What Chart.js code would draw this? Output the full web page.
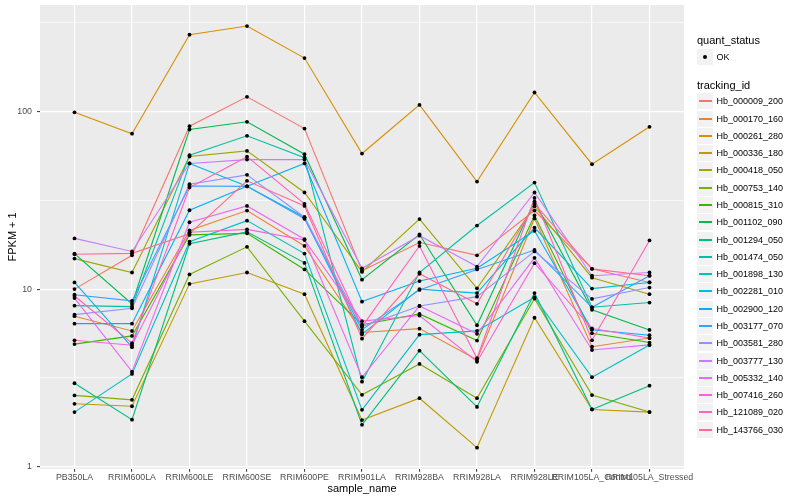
<!DOCTYPE html>
<html><head><meta charset="utf-8">
<script src="https://cdn.jsdelivr.net/npm/chart.js@4/dist/chart.umd.min.js"></script>
<style>
html,body{margin:0;padding:0;background:#fff;}
#wrap{position:relative;width:800px;height:500px;font-family:"Liberation Sans",Arial,sans-serif;background:#fff;}
#c{position:absolute;left:0;top:0;}
.lg{position:absolute;white-space:nowrap;color:#000;}
.ttl{font-size:11px;line-height:14px;height:14px;}
.itm{font-size:9px;line-height:12px;height:12px;}
.key{position:absolute;width:16px;height:16px;background:#F2F2F2;}
.kline{position:absolute;left:2px;width:13px;height:2px;top:7px;}
.kdot{position:absolute;left:6px;top:6px;width:4px;height:4px;border-radius:50%;background:#000;}
</style></head><body>
<div id="wrap"><canvas id="c" width="800" height="500"></canvas><div id="legend"></div></div>
<script>
// ---- data ----
const categories = ["PB350LA","RRIM600LA","RRIM600LE","RRIM600SE","RRIM600PE","RRIM901LA","RRIM928BA","RRIM928LA","RRIM928LE","RRIM105LA_Control","RRIM105LA_Stressed"];
const trackingIds = ["Hb_000009_200","Hb_000170_160","Hb_000261_280","Hb_000336_180","Hb_000418_050","Hb_000753_140","Hb_000815_310","Hb_001102_090","Hb_001294_050","Hb_001474_050","Hb_001898_130","Hb_002281_010","Hb_002900_120","Hb_003177_070","Hb_003581_280","Hb_003777_130","Hb_005332_140","Hb_007416_260","Hb_121089_020","Hb_143766_030"];
const seriesColors = ["#F8766D","#EA8331","#D89000","#C09B00","#A3A500","#7CAE00","#39B600","#00BB4E","#00BF7D","#00C1A3","#00BFC4","#00BAE0","#00B0F6","#35A2FF","#9590FF","#C77CFF","#E76BF3","#FA62DB","#FF62BC","#FF6C91"];
const quantStatus = ["OK"];
const yTickValues = [1, 10, 100];
const yTickLabels = ["1", "10", "100"];
const yMinorValues = [3.162, 31.62, 316.2];

// FPKM + 1 values per tracking_id, in category order
const hb_000009_200 = [10.0, 15.5, 82.7, 121, 80.2, 12.7, 18.3, 15.5, 27.7, 13.0, 10.9];
const hb_000170_160 = [7.04, 5.81, 21.4, 27.7, 17.5, 5.7, 5.99, 4.0, 25.0, 4.74, 5.3];
const hb_000261_280 = [99, 75, 271, 303, 200, 58, 109, 40.3, 128, 50.5, 82];
const hb_000336_180 = [2.26, 2.19, 10.7, 12.4, 9.36, 1.83, 2.43, 1.28, 6.9, 2.1, 2.03];
const hb_000418_050 = [14.85, 12.4, 55.8, 60, 35, 12.5, 24.8, 10.1, 29.2, 11.6, 9.36];
const hb_000753_140 = [2.52, 2.38, 12.1, 17.3, 6.6, 2.54, 3.79, 2.43, 8.84, 2.53, 2.03];
const hb_000815_310 = [4.9, 5.45, 20.2, 20.6, 12.9, 6.3, 7.25, 5.13, 26.0, 5.64, 5.0];
const hb_001102_090 = [15.85, 8.25, 79.2, 87.5, 57.5, 11.3, 20.3, 6.26, 31.1, 7.64, 5.89];
const hb_001294_050 = [2.95, 1.84, 18.0, 21.0, 14.05, 1.72, 4.5, 2.17, 9.5, 2.1, 2.86];
const hb_001474_050 = [8.07, 7.97, 56.8, 73, 55, 3.01, 12.4, 22.8, 39.8, 7.9, 8.4];
const hb_001898_130 = [2.03, 3.33, 18.5, 24.3, 15.85, 2.09, 5.54, 5.82, 9.0, 3.19, 4.85];
const hb_002281_010 = [10.9, 4.71, 51, 37.9, 25.4, 5.57, 10.0, 9.5, 22.2, 10.07, 10.9];
const hb_002900_120 = [6.39, 6.39, 27.8, 37.9, 51, 8.5, 11.1, 13.1, 21.3, 5.9, 5.5];
const hb_003177_070 = [9.3, 8.58, 38.1, 37.9, 24.9, 5.9, 9.9, 12.9, 16.6, 7.9, 11.9];
const hb_003581_280 = [7.18, 7.8, 39, 44, 25.4, 6.15, 8.04, 9.07, 16.3, 8.81, 10.2];
const hb_003777_130 = [19.3, 16.3, 51, 53.6, 53.6, 13.1, 20.0, 13.4, 35, 11.9, 12.4];
const hb_005332_140 = [8.9, 3.43, 23.8, 29.4, 19.1, 3.19, 8.04, 5.6, 15.0, 4.54, 4.85];
const hb_007416_260 = [5.15, 4.83, 20.9, 21.7, 18.9, 6.6, 7.1, 3.9, 14.0, 6.0, 5.3];
const hb_121089_020 = [9.15, 4.96, 37.3, 55.7, 30.2, 6.15, 17.5, 4.08, 32.6, 5.15, 18.8];
const hb_143766_030 = [15.7, 15.9, 20.5, 40.7, 29.4, 5.26, 12.2, 8.26, 30.2, 13.0, 11.9];

const seriesValues = [hb_000009_200, hb_000170_160, hb_000261_280, hb_000336_180, hb_000418_050, hb_000753_140, hb_000815_310, hb_001102_090, hb_001294_050, hb_001474_050, hb_001898_130, hb_002281_010, hb_002900_120, hb_003177_070, hb_003581_280, hb_003777_130, hb_005332_140, hb_007416_260, hb_121089_020, hb_143766_030];

// ---- chart ----
const lineSets = seriesValues.map((vals, i) => ({
  label: trackingIds[i],
  data: vals.map((v, j) => ({x: j, y: v})),
  borderColor: seriesColors[i],
  backgroundColor: seriesColors[i],
  borderWidth: 1.1,
  pointRadius: 0,
  fill: false,
  tension: 0,
  order: 30 - i
}));
const pointSet = {
  label: 'points',
  data: seriesValues.flatMap(vals => vals.map((v, j) => ({x: j, y: v}))),
  showLine: false,
  pointRadius: 1.9,
  pointBorderWidth: 0,
  pointBackgroundColor: '#000',
  pointBorderColor: '#000',
  order: 0
};

const isMajorY = v => yTickValues.some(t => Math.abs(t - v) < 1e-6);

const bgPlugin = {
  id: 'panelBg',
  beforeDraw(chart) {
    const {ctx, chartArea: a} = chart;
    ctx.save();
    ctx.fillStyle = '#EBEBEB';
    ctx.fillRect(a.left, a.top, a.right - a.left, a.bottom - a.top);
    ctx.restore();
  }
};

new Chart(document.getElementById('c'), {
  type: 'line',
  data: { datasets: [...lineSets, pointSet] },
  plugins: [bgPlugin],
  options: {
    responsive: false,
    animation: false,
    layout: { padding: { left: 0, top: 5, right: 116, bottom: 0 } },
    plugins: { legend: { display: false }, tooltip: { enabled: false } },
    scales: {
      x: {
        type: 'linear',
        min: -0.6,
        max: categories.length - 1 + 0.6,
        afterBuildTicks: s => { s.ticks = categories.map((c, i) => ({value: i})); },
        afterFit: s => { s.height = 31.2; s.paddingLeft = 0; s.paddingRight = 0; },
        ticks: {
          autoSkip: false, maxRotation: 0, minRotation: 0, padding: 0,
          color: '#4D4D4D',
          font: { family: 'Liberation Sans', size: 8.8 },
          callback: v => categories[v]
        },
        grid: { color: '#FFFFFF', lineWidth: 1.2, drawTicks: true, tickLength: 3, tickColor: '#333333', tickWidth: 1 },
        border: { display: false },
        title: { display: true, text: 'sample_name', color: '#000', font: { family: 'Liberation Sans', size: 11 }, padding: { top: 0, bottom: 4.4 } }
      },
      y: {
        type: 'logarithmic',
        min: 0.973,
        max: 398,
        afterBuildTicks: s => {
          s.ticks = [...yTickValues, ...yMinorValues].sort((a, b) => a - b).map(v => ({value: v}));
        },
        afterFit: s => { s.width = 40; s.paddingTop = 0; s.paddingBottom = 0; },
        ticks: {
          padding: 5,
          color: '#4D4D4D',
          font: { family: 'Liberation Sans', size: 8.8 },
          callback: v => { const k = yTickValues.findIndex(t => Math.abs(t - v) < 1e-6); return k >= 0 ? yTickLabels[k] : ''; }
        },
        grid: {
          color: '#FFFFFF',
          lineWidth: c => (c.tick && isMajorY(c.tick.value)) ? 1.2 : 0.6,
          drawTicks: true, tickLength: 3,
          tickColor: c => (c.tick && isMajorY(c.tick.value)) ? '#333333' : 'rgba(0,0,0,0)',
          tickWidth: 1
        },
        border: { display: false },
        title: { display: true, text: 'FPKM + 1', color: '#000', font: { family: 'Liberation Sans', size: 11 }, padding: { top: 6.4, bottom: 0 } }
      }
    }
  }
});

// ---- legend (HTML text) ----
const lg = document.getElementById('legend');
function add(html, cls, left, top) {
  const d = document.createElement('div');
  d.className = 'lg ' + cls;
  d.style.left = left + 'px';
  d.style.top = top + 'px';
  d.innerHTML = html;
  lg.appendChild(d);
  return d;
}
add('quant_status', 'ttl', 697, 33);
const k0 = document.createElement('div');
k0.className = 'key'; k0.style.left = '697px'; k0.style.top = '49px';
k0.innerHTML = '<div class="kdot"></div>';
lg.appendChild(k0);
add(quantStatus[0], 'itm', 716.5, 51);
add('tracking_id', 'ttl', 697, 77.5);
trackingIds.forEach((id, i) => {
  const cy = Math.round(101.3 + i * 17.28);
  const k = document.createElement('div');
  k.className = 'key';
  k.style.left = '697px';
  k.style.top = (cy - 8) + 'px';
  k.innerHTML = '<div class="kline" style="background:' + seriesColors[i] + '"></div>';
  lg.appendChild(k);
  add(id, 'itm', 716.5, cy - 6);
});
</script>
</body></html>
